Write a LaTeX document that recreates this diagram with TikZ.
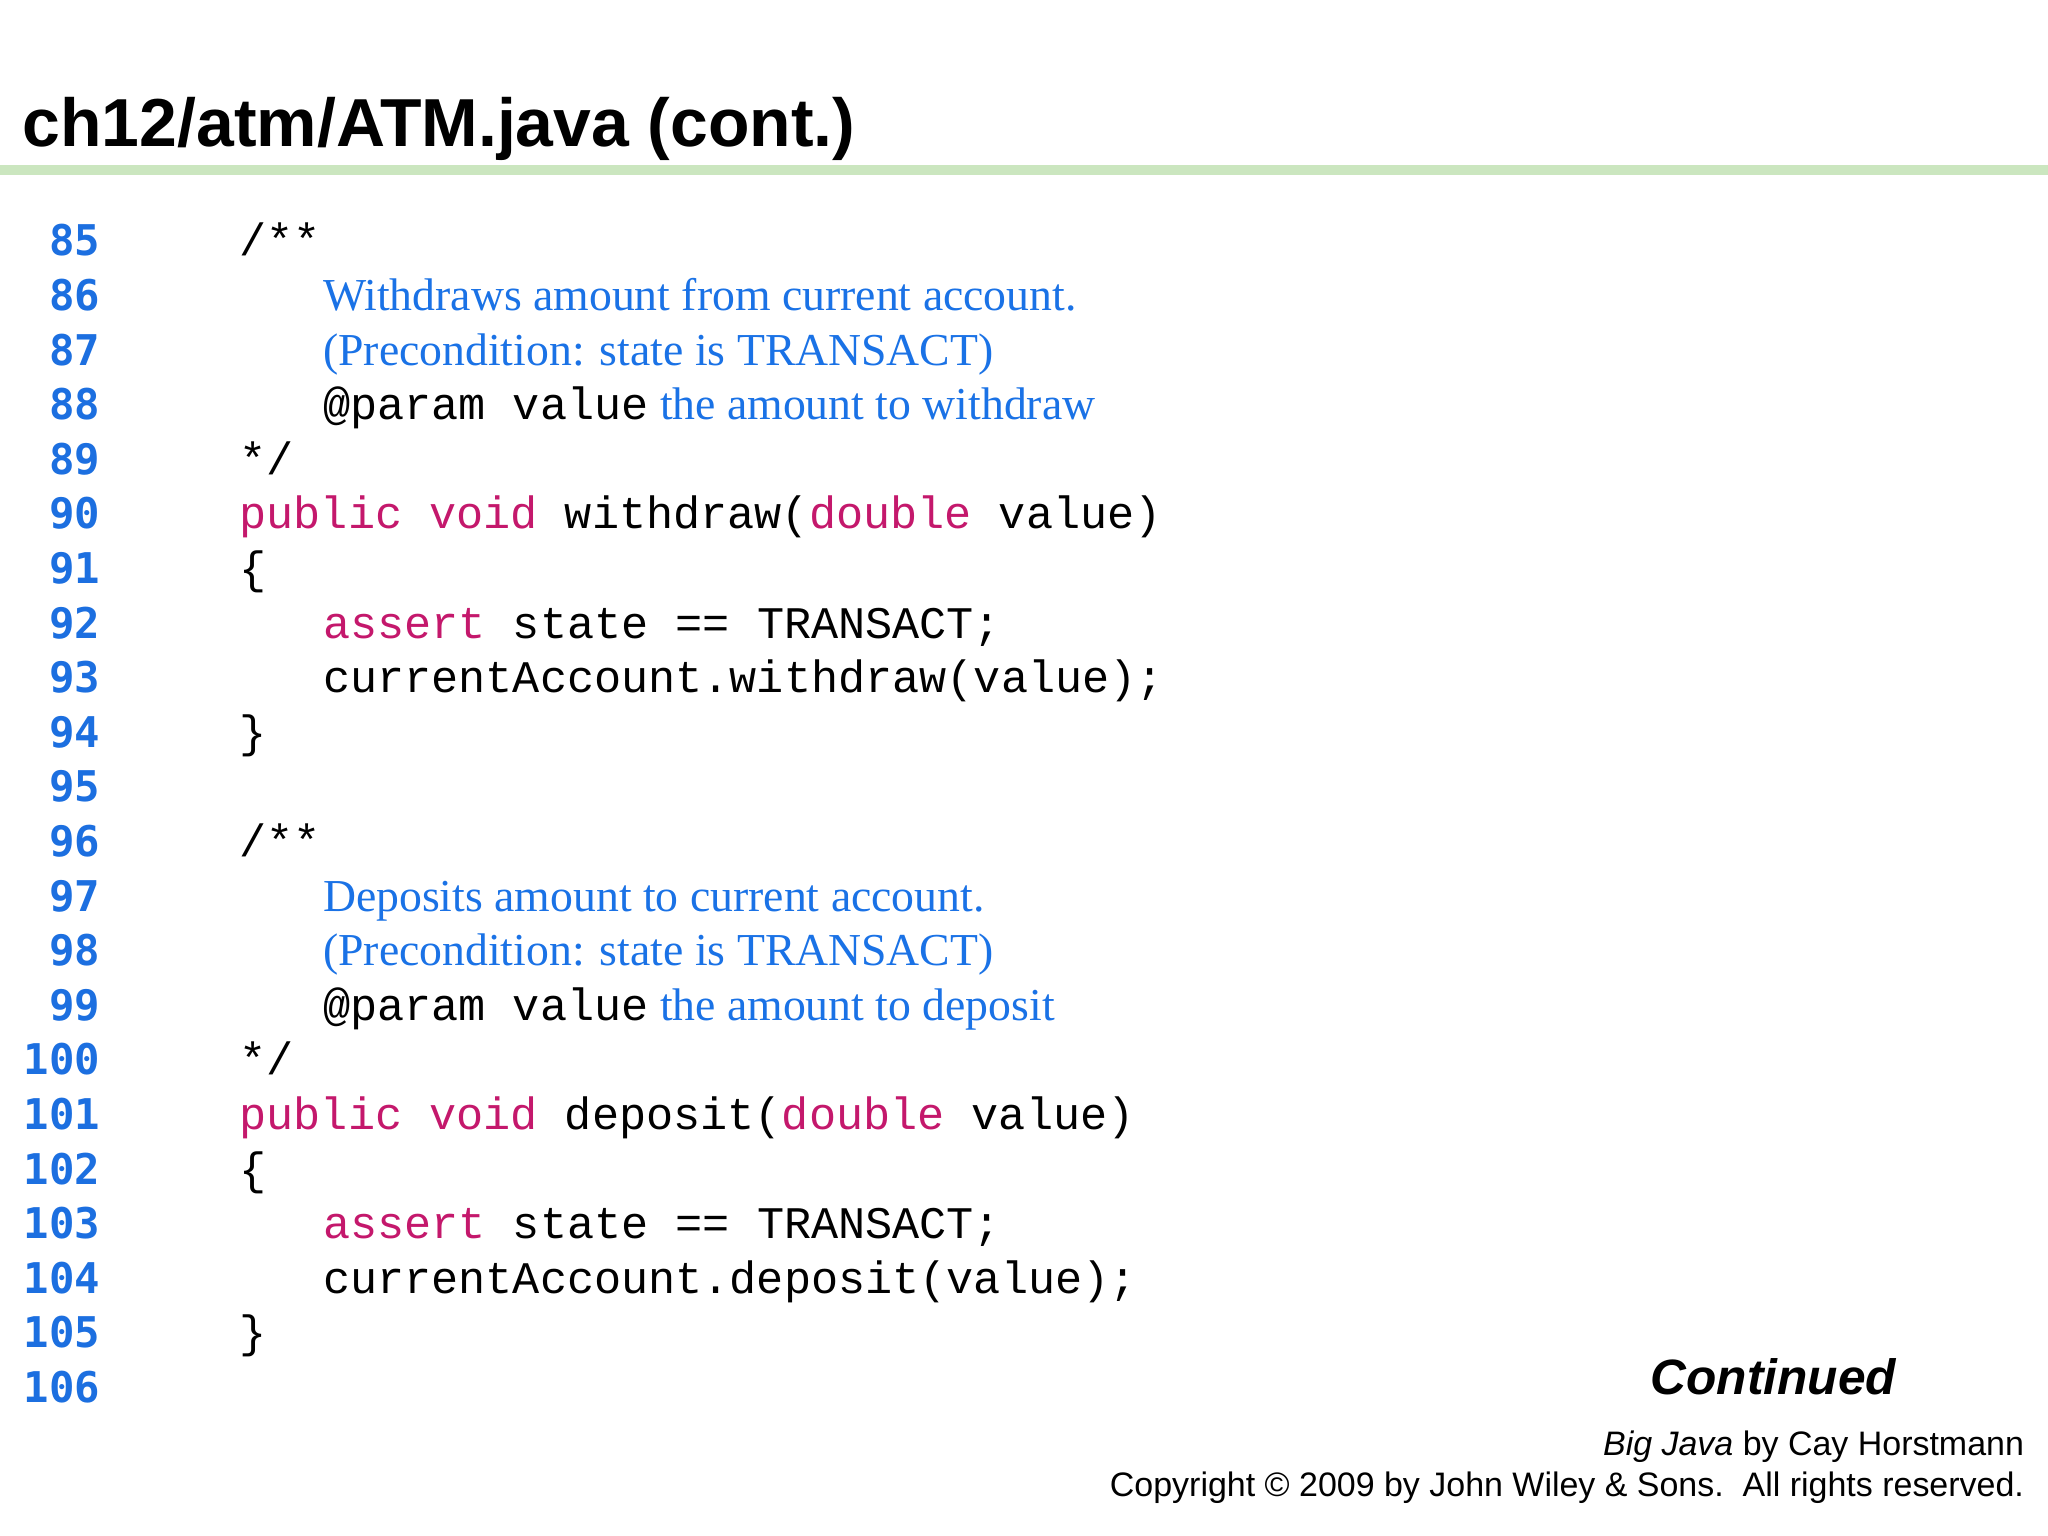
\documentclass[tikz,border=0pt]{standalone}
\usepackage{fontspec}
\setmainfont{Liberation Serif}
\setsansfont{Liberation Sans}
\setmonofont{Liberation Mono}
\newfontfamily\numfont{DejaVu Sans Mono}
\definecolor{lnblue}{HTML}{1C6FE0}
\definecolor{cmblue}{HTML}{1A72E6}
\definecolor{kw}{HTML}{C4186C}
\definecolor{bar}{HTML}{CBE6BF}
\newcommand{\kwd}[1]{\textcolor{kw}{#1}}
\newcommand{\cmt}[1]{\textcolor{cmblue}{\rmfamily\fontsize{17.5}{20}\selectfont #1}}
\begin{document}
\begin{tikzpicture}[x=0.5pt,y=-0.5pt,
  ln/.style={anchor=base east,inner sep=0pt,text=lnblue,font=\numfont\bfseries\fontsize{16.2}{18}\selectfont},
  code/.style={anchor=base west,inner sep=0pt,font=\ttfamily\fontsize{17.3}{19}\selectfont},
  cmtx/.style={anchor=base west,inner sep=0pt,text=cmblue,font=\rmfamily\fontsize{17.5}{20}\selectfont}]
\useasboundingbox[fill=white] (0,0) rectangle (1568,1176);
\node[anchor=base west,inner sep=0pt,font=\sffamily\bfseries\fontsize{26}{29}\selectfont] (title) at (17,112) {ch12/atm/ATM.java (cont.)};
\draw[bar,line width=4pt] (0,130) -- (1568,130);
\foreach \n [count=\i from 0] in {85,...,106}{
  \node[ln] (n\n) at (77,{196+41.8*\i}) {\n};
}
\def\Y#1{{196+41.8*(#1-85)}}
\node[code] (c85) at (183,\Y{85}) {/**};
\node[cmtx] (c86) at (247,\Y{86}) {Withdraws amount from current account.};
\node[cmtx] (c87) at (247,\Y{87}) {(Precondition: state is TRANSACT)};
\node[code] (c88) at (247,\Y{88}) {@param value\cmt{ the amount to withdraw}};
\node[code] (c89) at (183,\Y{89}) {*/};
\node[code] (c90) at (183,\Y{90}) {\kwd{public void} withdraw(\kwd{double} value)};
\node[code] (c91) at (183,\Y{91}) {\{};
\node[code] (c92) at (247,\Y{92}) {\kwd{assert} state == TRANSACT;};
\node[code] (c93) at (247,\Y{93}) {currentAccount.withdraw(value);};
\node[code] (c94) at (183,\Y{94}) {\}};
\node[code] (c96) at (183,\Y{96}) {/**};
\node[cmtx] (c97) at (247,\Y{97}) {Deposits amount to current account.};
\node[cmtx] (c98) at (247,\Y{98}) {(Precondition: state is TRANSACT)};
\node[code] (c99) at (247,\Y{99}) {@param value\cmt{ the amount to deposit}};
\node[code] (c100) at (183,\Y{100}) {*/};
\node[code] (c101) at (183,\Y{101}) {\kwd{public void} deposit(\kwd{double} value)};
\node[code] (c102) at (183,\Y{102}) {\{};
\node[code] (c103) at (247,\Y{103}) {\kwd{assert} state == TRANSACT;};
\node[code] (c104) at (247,\Y{104}) {currentAccount.deposit(value);};
\node[code] (c105) at (183,\Y{105}) {\}};
\node[anchor=base east,inner sep=0pt,font=\sffamily\bfseries\itshape\fontsize{19}{22}\selectfont] (cont) at (1452,1068) {Continued};
\node[anchor=base east,inner sep=0pt,font=\sffamily\fontsize{13}{15}\selectfont] (bj) at (1550,1114) {\textit{Big Java} by Cay Horstmann};
\node[anchor=base east,inner sep=0pt,font=\sffamily\fontsize{13}{15}\selectfont] (cp) at (1550,1146) {Copyright \textcopyright{} 2009 by John Wiley \& Sons.\ \ All rights reserved.};
\end{tikzpicture}
\end{document}
